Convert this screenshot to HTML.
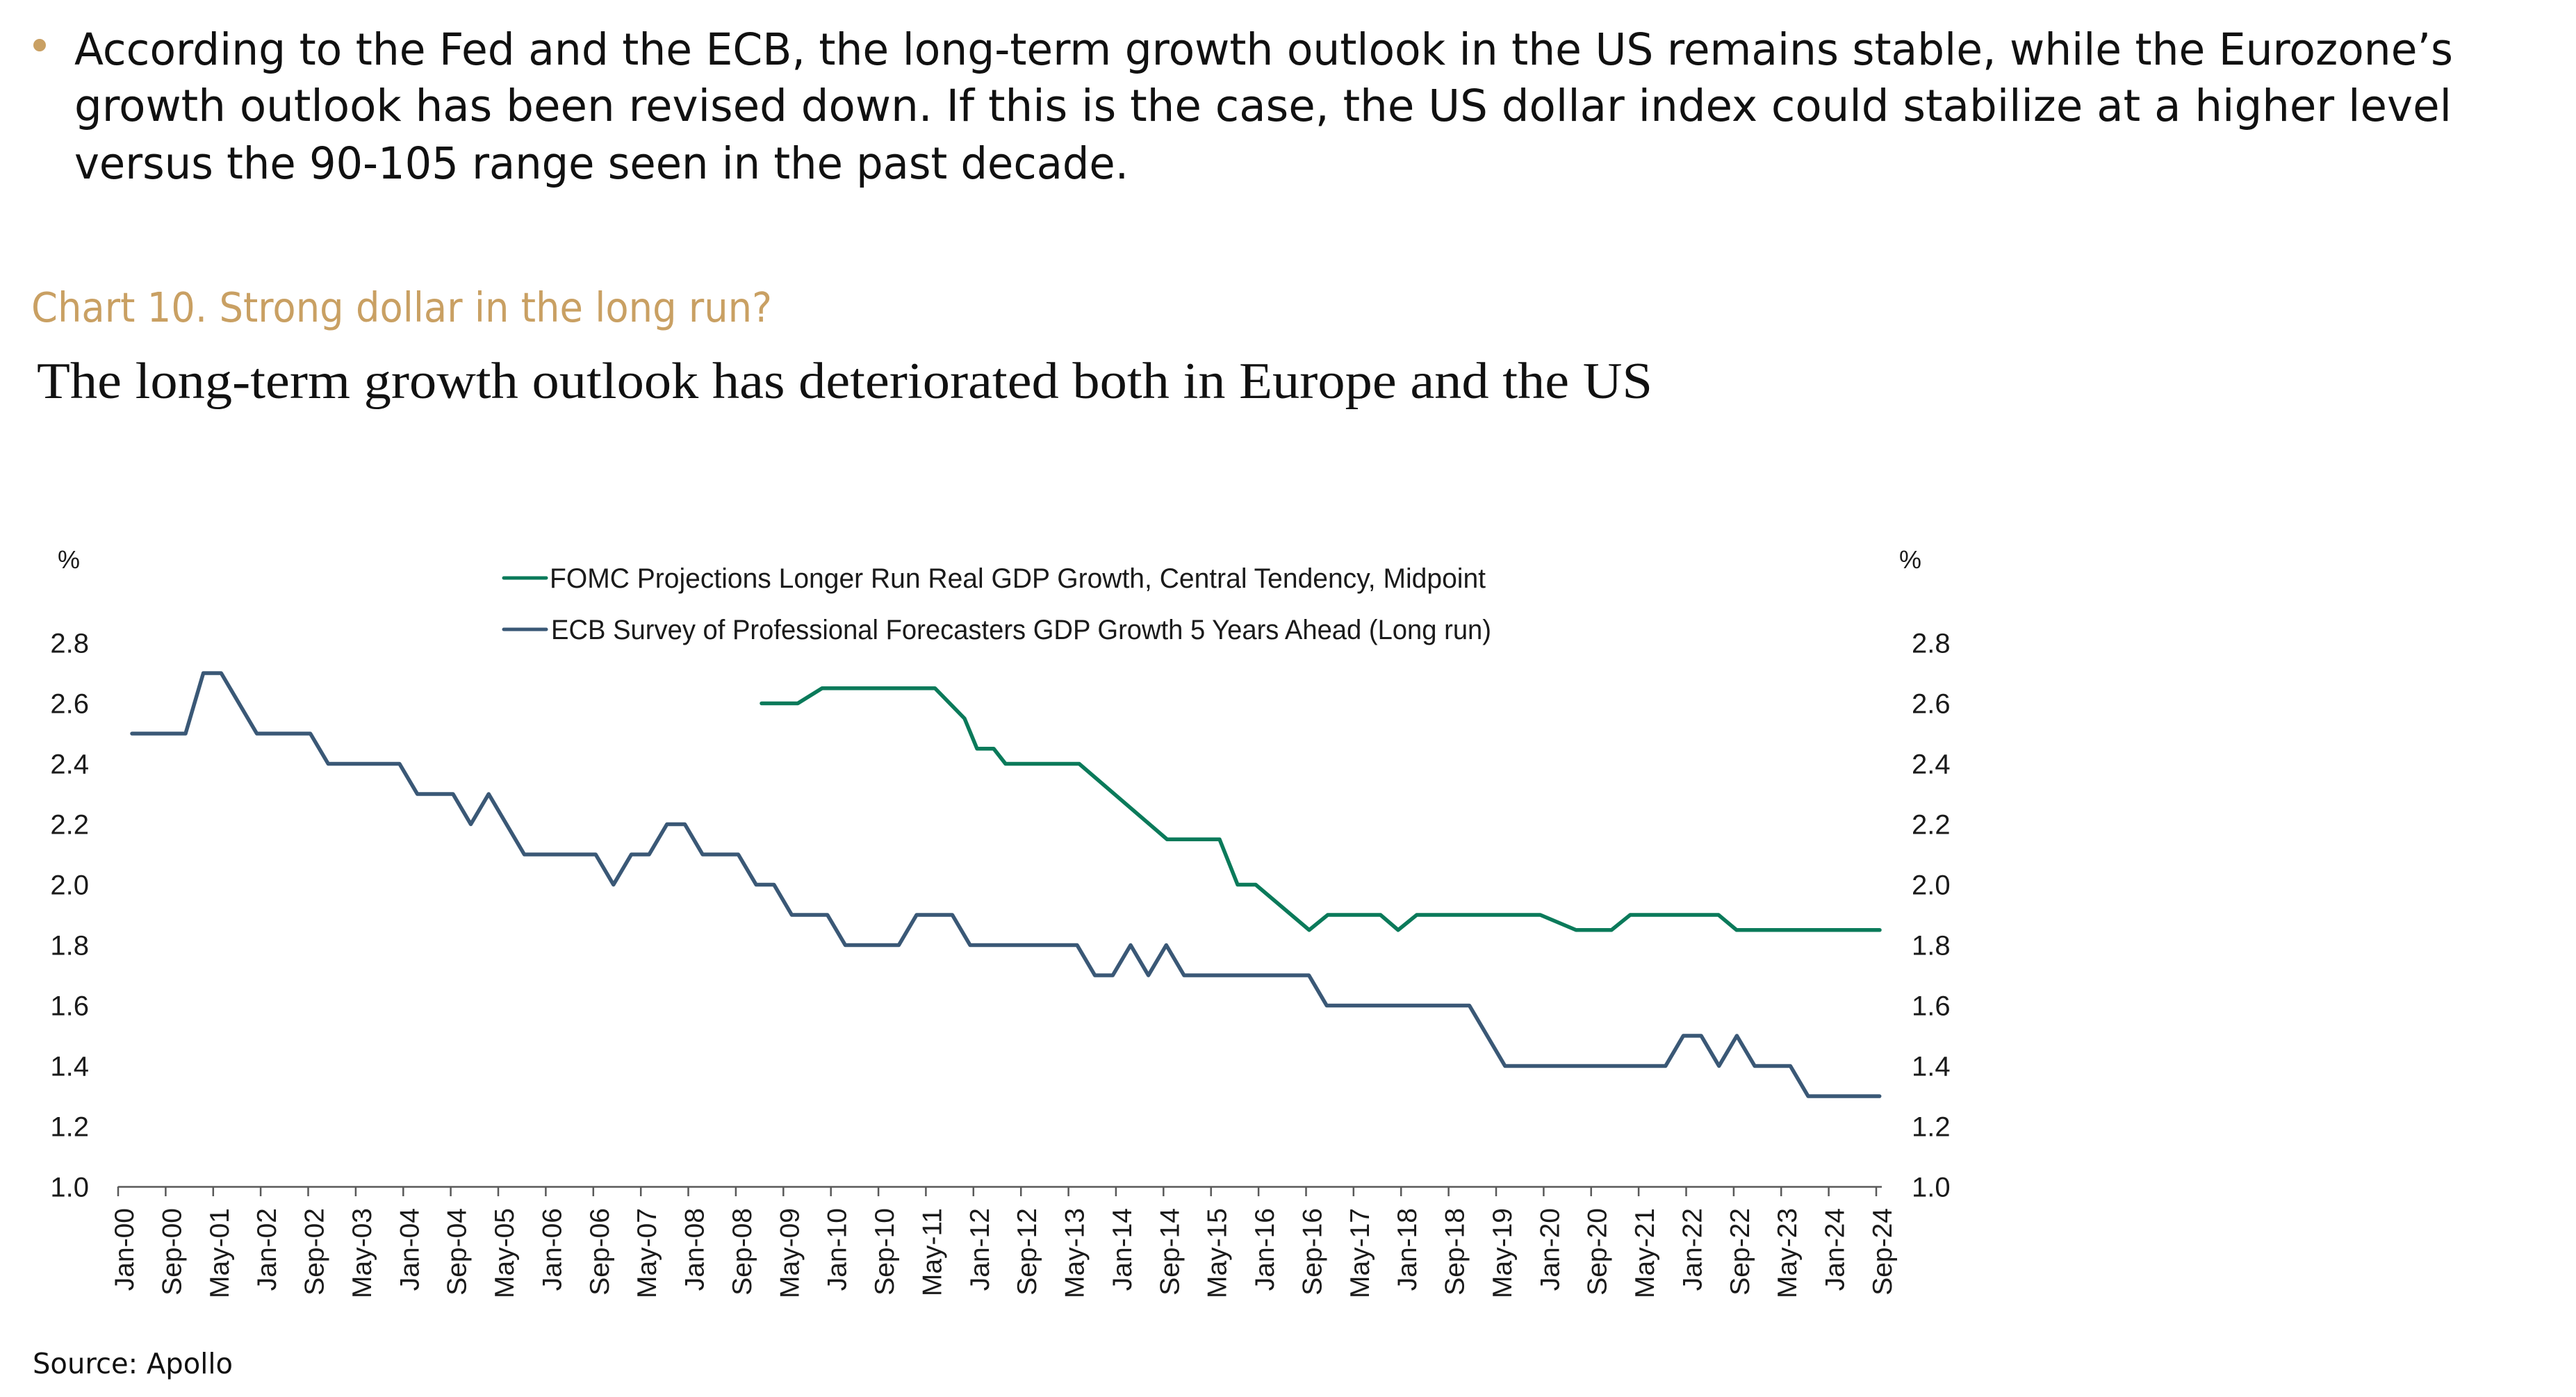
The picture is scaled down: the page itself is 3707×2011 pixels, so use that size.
<!DOCTYPE html>
<html>
<head>
<meta charset="utf-8">
<style>
  html,body{margin:0;padding:0;background:#ffffff;}
  svg{display:block;}
</style>
</head>
<body>
<svg xmlns="http://www.w3.org/2000/svg" width="3707" height="2011" viewBox="0 0 3707 2011">
  <rect x="0" y="0" width="3707" height="2011" fill="#ffffff"/>

  <!-- Bullet paragraph -->
  <circle cx="57" cy="65" r="9" fill="#C9A063"/>
  <g font-family="'DejaVu Sans', 'Liberation Sans', sans-serif" font-size="63" fill="#111111">
    <text x="107" y="93" textLength="3423" lengthAdjust="spacingAndGlyphs">According to the Fed and the ECB, the long-term growth outlook in the US remains stable, while the Eurozone’s</text>
    <text x="107" y="174" textLength="3421" lengthAdjust="spacingAndGlyphs">growth outlook has been revised down. If this is the case, the US dollar index could stabilize at a higher level</text>
    <text x="107" y="257" textLength="1517" lengthAdjust="spacingAndGlyphs">versus the 90-105 range seen in the past decade.</text>
  </g>

  <!-- Chart title -->
  <text x="45" y="463" font-family="'DejaVu Sans', 'Liberation Sans', sans-serif" font-size="59" fill="#C9A063" textLength="1066" lengthAdjust="spacingAndGlyphs">Chart 10. Strong dollar in the long run?</text>
  <text x="53" y="573" font-family="'Liberation Serif', serif" font-size="74" fill="#111111" textLength="2325" lengthAdjust="spacingAndGlyphs">The long-term growth outlook has deteriorated both in Europe and the US</text>

  <!-- Percent signs -->
  <g font-family="'Liberation Sans', sans-serif" font-size="36" fill="#1a1a1a">
    <text x="83" y="818">%</text>
    <text x="2733" y="818">%</text>
  </g>

  <!-- Legend -->
  <line x1="725" y1="832" x2="786" y2="832" stroke="#0A7A5A" stroke-width="5" stroke-linecap="round"/>
  <line x1="725" y1="906" x2="786" y2="906" stroke="#3A5876" stroke-width="5" stroke-linecap="round"/>
  <g font-family="'Liberation Sans', sans-serif" font-size="40" fill="#1a1a1a">
    <text x="791" y="846" textLength="1347" lengthAdjust="spacingAndGlyphs">FOMC Projections Longer Run Real GDP Growth, Central Tendency, Midpoint</text>
    <text x="793" y="920" textLength="1353" lengthAdjust="spacingAndGlyphs">ECB Survey of Professional Forecasters GDP Growth 5 Years Ahead (Long run)</text>
  </g>

  <!-- Left y-axis labels -->
  <g font-family="'Liberation Sans', sans-serif" font-size="40" fill="#1a1a1a" text-anchor="end">
    <text x="128" y="939.5">2.8</text>
    <text x="128" y="1026.5">2.6</text>
    <text x="128" y="1113.5">2.4</text>
    <text x="128" y="1200.5">2.2</text>
    <text x="128" y="1287.5">2.0</text>
    <text x="128" y="1374.5">1.8</text>
    <text x="128" y="1461.5">1.6</text>
    <text x="128" y="1548.5">1.4</text>
    <text x="128" y="1635.5">1.2</text>
    <text x="128" y="1722.5">1.0</text>
  </g>
  <!-- Right y-axis labels -->
  <g font-family="'Liberation Sans', sans-serif" font-size="40" fill="#1a1a1a" text-anchor="start">
    <text x="2751" y="939.5">2.8</text>
    <text x="2751" y="1026.5">2.6</text>
    <text x="2751" y="1113.5">2.4</text>
    <text x="2751" y="1200.5">2.2</text>
    <text x="2751" y="1287.5">2.0</text>
    <text x="2751" y="1374.5">1.8</text>
    <text x="2751" y="1461.5">1.6</text>
    <text x="2751" y="1548.5">1.4</text>
    <text x="2751" y="1635.5">1.2</text>
    <text x="2751" y="1722.5">1.0</text>
  </g>

  <!-- X axis -->
  <line x1="170" y1="1708.5" x2="2708" y2="1708.5" stroke="#595959" stroke-width="2.5"/>
  <g stroke="#595959" stroke-width="2.5">
    <line x1="170.0" y1="1708" x2="170.0" y2="1722"/>
    <line x1="238.4" y1="1708" x2="238.4" y2="1722"/>
    <line x1="306.8" y1="1708" x2="306.8" y2="1722"/>
    <line x1="375.1" y1="1708" x2="375.1" y2="1722"/>
    <line x1="443.5" y1="1708" x2="443.5" y2="1722"/>
    <line x1="511.9" y1="1708" x2="511.9" y2="1722"/>
    <line x1="580.3" y1="1708" x2="580.3" y2="1722"/>
    <line x1="648.6" y1="1708" x2="648.6" y2="1722"/>
    <line x1="717.0" y1="1708" x2="717.0" y2="1722"/>
    <line x1="785.4" y1="1708" x2="785.4" y2="1722"/>
    <line x1="853.8" y1="1708" x2="853.8" y2="1722"/>
    <line x1="922.2" y1="1708" x2="922.2" y2="1722"/>
    <line x1="990.5" y1="1708" x2="990.5" y2="1722"/>
    <line x1="1058.9" y1="1708" x2="1058.9" y2="1722"/>
    <line x1="1127.3" y1="1708" x2="1127.3" y2="1722"/>
    <line x1="1195.7" y1="1708" x2="1195.7" y2="1722"/>
    <line x1="1264.1" y1="1708" x2="1264.1" y2="1722"/>
    <line x1="1332.4" y1="1708" x2="1332.4" y2="1722"/>
    <line x1="1400.8" y1="1708" x2="1400.8" y2="1722"/>
    <line x1="1469.2" y1="1708" x2="1469.2" y2="1722"/>
    <line x1="1537.6" y1="1708" x2="1537.6" y2="1722"/>
    <line x1="1605.9" y1="1708" x2="1605.9" y2="1722"/>
    <line x1="1674.3" y1="1708" x2="1674.3" y2="1722"/>
    <line x1="1742.7" y1="1708" x2="1742.7" y2="1722"/>
    <line x1="1811.1" y1="1708" x2="1811.1" y2="1722"/>
    <line x1="1879.5" y1="1708" x2="1879.5" y2="1722"/>
    <line x1="1947.8" y1="1708" x2="1947.8" y2="1722"/>
    <line x1="2016.2" y1="1708" x2="2016.2" y2="1722"/>
    <line x1="2084.6" y1="1708" x2="2084.6" y2="1722"/>
    <line x1="2153.0" y1="1708" x2="2153.0" y2="1722"/>
    <line x1="2221.4" y1="1708" x2="2221.4" y2="1722"/>
    <line x1="2289.7" y1="1708" x2="2289.7" y2="1722"/>
    <line x1="2358.1" y1="1708" x2="2358.1" y2="1722"/>
    <line x1="2426.5" y1="1708" x2="2426.5" y2="1722"/>
    <line x1="2494.9" y1="1708" x2="2494.9" y2="1722"/>
    <line x1="2563.2" y1="1708" x2="2563.2" y2="1722"/>
    <line x1="2631.6" y1="1708" x2="2631.6" y2="1722"/>
    <line x1="2700.0" y1="1708" x2="2700.0" y2="1722"/>
  </g>

  <!-- X tick labels (rotated) -->
  <g font-family="'Liberation Sans', sans-serif" font-size="39" fill="#1a1a1a" text-anchor="end">
    <text transform="translate(192.0,1739) rotate(-90)">Jan-00</text>
    <text transform="translate(260.4,1739) rotate(-90)">Sep-00</text>
    <text transform="translate(328.8,1739) rotate(-90)">May-01</text>
    <text transform="translate(397.1,1739) rotate(-90)">Jan-02</text>
    <text transform="translate(465.5,1739) rotate(-90)">Sep-02</text>
    <text transform="translate(533.9,1739) rotate(-90)">May-03</text>
    <text transform="translate(602.3,1739) rotate(-90)">Jan-04</text>
    <text transform="translate(670.6,1739) rotate(-90)">Sep-04</text>
    <text transform="translate(739.0,1739) rotate(-90)">May-05</text>
    <text transform="translate(807.4,1739) rotate(-90)">Jan-06</text>
    <text transform="translate(875.8,1739) rotate(-90)">Sep-06</text>
    <text transform="translate(944.2,1739) rotate(-90)">May-07</text>
    <text transform="translate(1012.5,1739) rotate(-90)">Jan-08</text>
    <text transform="translate(1080.9,1739) rotate(-90)">Sep-08</text>
    <text transform="translate(1149.3,1739) rotate(-90)">May-09</text>
    <text transform="translate(1217.7,1739) rotate(-90)">Jan-10</text>
    <text transform="translate(1286.1,1739) rotate(-90)">Sep-10</text>
    <text transform="translate(1354.4,1739) rotate(-90)">May-11</text>
    <text transform="translate(1422.8,1739) rotate(-90)">Jan-12</text>
    <text transform="translate(1491.2,1739) rotate(-90)">Sep-12</text>
    <text transform="translate(1559.6,1739) rotate(-90)">May-13</text>
    <text transform="translate(1627.9,1739) rotate(-90)">Jan-14</text>
    <text transform="translate(1696.3,1739) rotate(-90)">Sep-14</text>
    <text transform="translate(1764.7,1739) rotate(-90)">May-15</text>
    <text transform="translate(1833.1,1739) rotate(-90)">Jan-16</text>
    <text transform="translate(1901.5,1739) rotate(-90)">Sep-16</text>
    <text transform="translate(1969.8,1739) rotate(-90)">May-17</text>
    <text transform="translate(2038.2,1739) rotate(-90)">Jan-18</text>
    <text transform="translate(2106.6,1739) rotate(-90)">Sep-18</text>
    <text transform="translate(2175.0,1739) rotate(-90)">May-19</text>
    <text transform="translate(2243.4,1739) rotate(-90)">Jan-20</text>
    <text transform="translate(2311.7,1739) rotate(-90)">Sep-20</text>
    <text transform="translate(2380.1,1739) rotate(-90)">May-21</text>
    <text transform="translate(2448.5,1739) rotate(-90)">Jan-22</text>
    <text transform="translate(2516.9,1739) rotate(-90)">Sep-22</text>
    <text transform="translate(2585.2,1739) rotate(-90)">May-23</text>
    <text transform="translate(2653.6,1739) rotate(-90)">Jan-24</text>
    <text transform="translate(2722.0,1739) rotate(-90)">Sep-24</text>
  </g>

  <!-- ECB series -->
  <polyline fill="none" stroke="#3A5876" stroke-width="5.5" stroke-linejoin="round" stroke-linecap="round"
    points="190,1056 267,1056 292.6,969 318.3,969 369.6,1056 446.6,1056 472.3,1099.5 574.9,1099.5 600.6,1143 651.9,1143 677.5,1186.5 703.2,1143 754.5,1230 857.2,1230 882.8,1273.5 908.5,1230 934.1,1230 959.8,1186.5 985.5,1186.5 1011.1,1230 1062.4,1230 1088.1,1273.5 1113.8,1273.5 1139.4,1317 1190.7,1317 1216.4,1360.5 1293.4,1360.5 1319,1317 1370.4,1317 1396,1360.5 1550,1360.5 1575.6,1404 1601.3,1404 1627,1360.5 1652.6,1404 1678.3,1360.5 1703.9,1404 1883.6,1404 1909.2,1447.5 2114.5,1447.5 2165.8,1534.5 2396.8,1534.5 2422.4,1491 2448.1,1491 2473.7,1534.5 2499.4,1491 2525.1,1534.5 2576.4,1534.5 2602,1578 2704.7,1578"/>

  <!-- FOMC series -->
  <polyline fill="none" stroke="#0A7A5A" stroke-width="5.5" stroke-linejoin="round" stroke-linecap="round"
    points="1096,1012.5 1148,1012.5 1183,990.75 1345.5,990.75 1388,1034.25 1406,1077.75 1430,1077.75 1447,1099.5 1553,1099.5 1679.5,1208.25 1755,1208.25 1781,1273.5 1807,1273.5 1884,1338.75 1910.7,1317 1986.6,1317 2012,1338.75 2038.8,1317 2216.5,1317 2268,1338.75 2319,1338.75 2346,1317 2473,1317 2499,1338.75 2705,1338.75"/>

  <!-- Source -->
  <text x="47" y="1977" font-family="'DejaVu Sans', 'Liberation Sans', sans-serif" font-size="41" fill="#111111" textLength="288" lengthAdjust="spacingAndGlyphs">Source: Apollo</text>
</svg>
</body>
</html>
